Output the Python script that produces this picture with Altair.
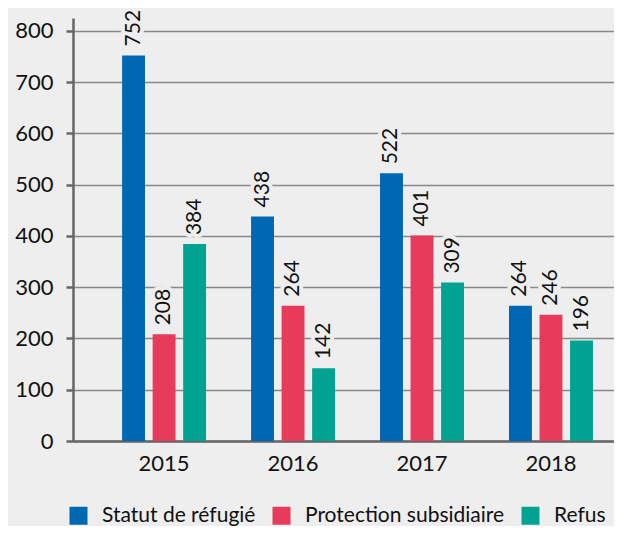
import altair as alt
import pandas as pd

years = ["2015", "2016", "2017", "2018"]
series = ["Statut de réfugié", "Protection subsidiaire", "Refus"]
statut = [752, 438, 522, 264]
protection = [208, 264, 401, 246]
refus = [384, 142, 309, 196]
colors = ["#0067b2", "#e83b5b", "#00a391"]
y_ticks = [0, 100, 200, 300, 400, 500, 600, 700, 800]

rows = []
for i, yr in enumerate(years):
    for s, vals in zip(series, [statut, protection, refus]):
        rows.append({"year": yr, "series": s, "value": vals[i]})
df = pd.DataFrame(rows)

BG = "#eeeeee"
FONT = "Lato"
W = 400

x = alt.X(
    "year:N",
    sort=years,
    scale=alt.Scale(paddingInner=0.349, paddingOuter=0.272, align=0.70),
    axis=alt.Axis(
        title=None, labelAngle=0, ticks=False, tickSize=0, labelPadding=12,
        labelFont=FONT, labelFontSize=22, labelFontWeight=W, labelColor="#111111",
        domainColor="#666666", domainWidth=2.5, grid=False,
    ),
)
xoff = alt.XOffset("series:N", sort=series,
                   scale=alt.Scale(paddingInner=0.25, paddingOuter=0))
y = alt.Y(
    "value:Q",
    scale=alt.Scale(domain=[0, 825], nice=False),
    axis=alt.Axis(
        title=None, values=y_ticks, tickSize=7, tickColor="#666666", tickWidth=2.5,
        domainColor="#666666", domainWidth=2.5, gridColor="#888888", gridWidth=1.3,
        labelFont=FONT, labelFontSize=22, labelFontWeight=W, labelColor="#111111",
        labelPadding=13,
    ),
)

base = alt.Chart(df)

bars = base.mark_bar().encode(
    x=x, xOffset=xoff, y=y,
    color=alt.Color(
        "series:N", sort=series,
        scale=alt.Scale(domain=series, range=colors),
        legend=alt.Legend(
            title=None, orient="none", legendX=-5, legendY=487,
            direction="horizontal", symbolType="square", symbolSize=324,
            symbolStrokeWidth=0, symbolOpacity=1, labelFont=FONT, labelFontSize=21,
            labelFontWeight=W, labelColor="#111111", labelOffset=13,
            columnPadding=15, padding=0, labelLimit=0,
        ),
    ),
)

halo = base.mark_text(
    angle=270, align="left", baseline="middle", dx=9, font=FONT, fontSize=21,
    fontWeight=W, fill=BG, stroke=BG, strokeWidth=8, strokeJoin="round",
).encode(x=x, xOffset=xoff, y=y, text="value:Q")

labels = base.mark_text(
    angle=270, align="left", baseline="middle", dx=9, font=FONT, fontSize=21,
    fontWeight=W, color="#111111",
).encode(x=x, xOffset=xoff, y=y, text="value:Q")

chart = (
    alt.layer(bars, halo, labels)
    .properties(
        width=541, height=423,
        autosize=alt.AutoSizeParams(type="none"),
        padding={"left": 65, "top": 10, "right": 0, "bottom": 85},
        background=BG,
    )
    .configure_view(stroke=None)
)

chart.save("out.html", embed_options={"renderer": "svg", "actions": False})
